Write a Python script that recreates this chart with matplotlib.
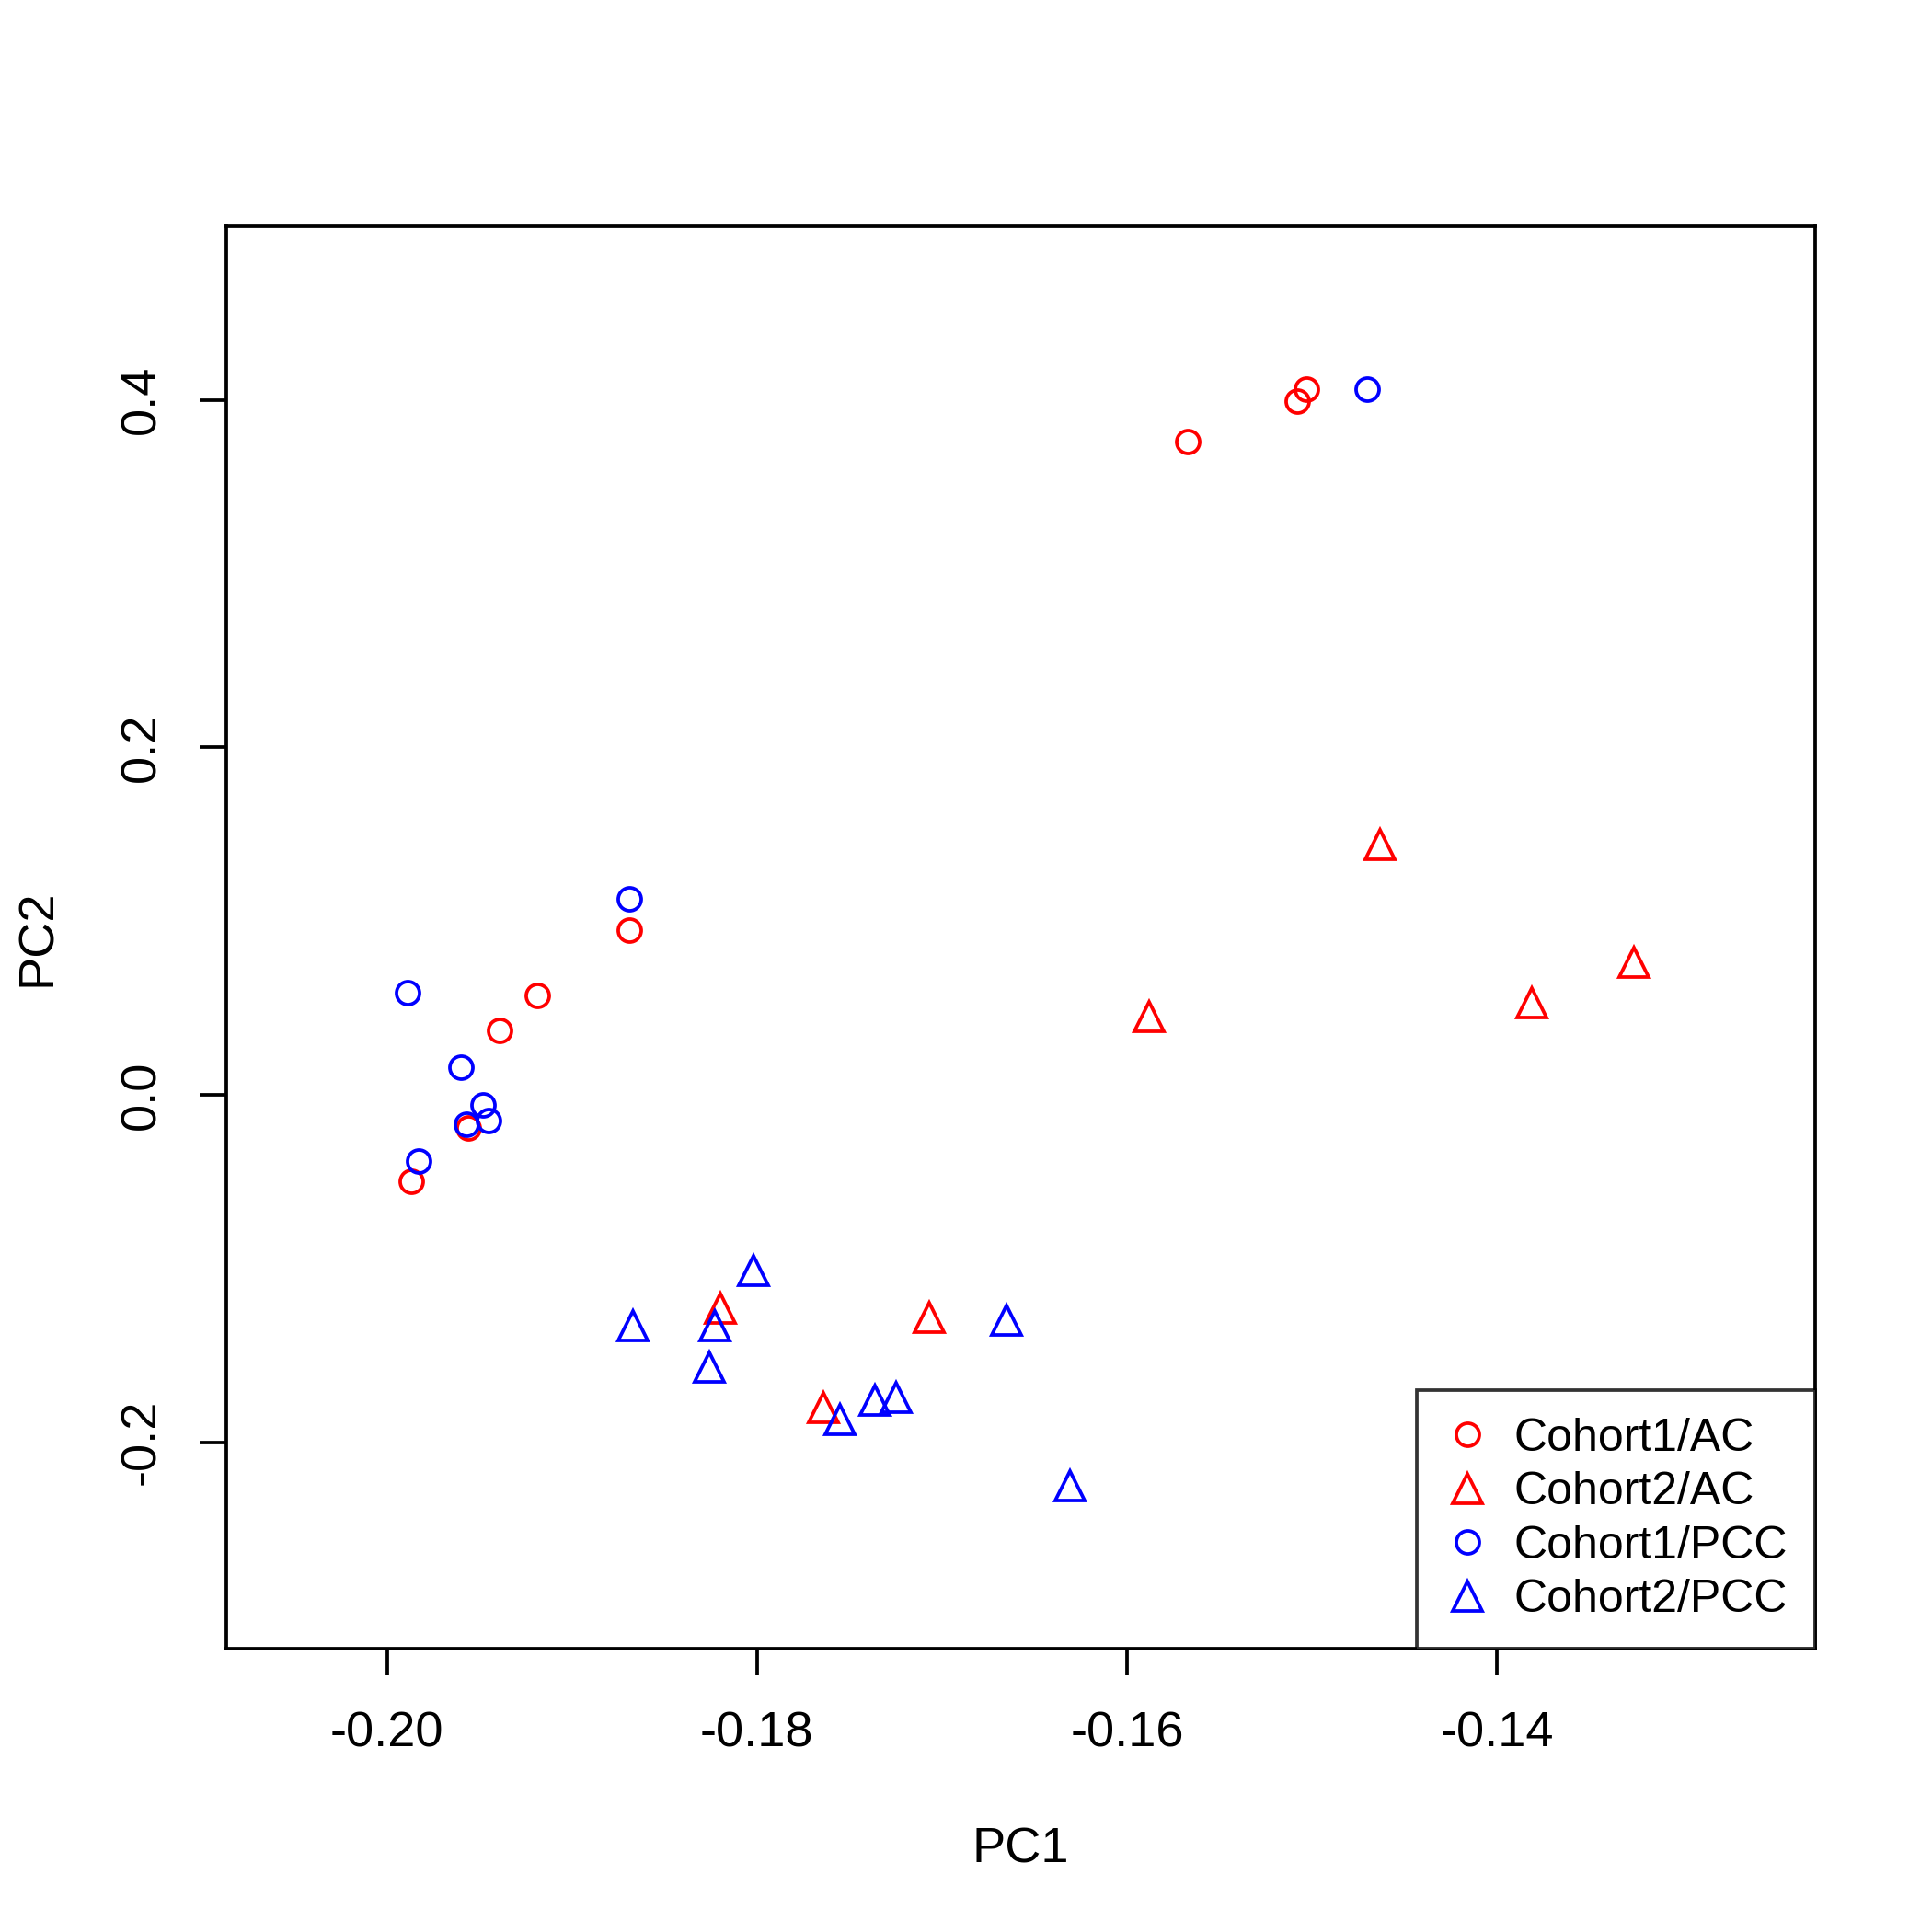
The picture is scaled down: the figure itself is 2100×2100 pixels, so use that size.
import matplotlib
matplotlib.use("Agg")
import matplotlib.pyplot as plt
from matplotlib.lines import Line2D

plt.rcParams['font.family'] = ['Liberation Sans', 'DejaVu Sans']

# Cohort1/AC (red circles)
c1_ac_x = [-0.1567, -0.1508, -0.1503, -0.1869, -0.1919, -0.1939, -0.1956, -0.1987]
c1_ac_y = [0.376, 0.399, 0.406, 0.095, 0.057, 0.037, -0.019, -0.050]
# Cohort2/AC (red triangles)
c2_ac_x = [-0.1463, -0.1326, -0.1381, -0.1588, -0.1820, -0.1707, -0.1764]
c2_ac_y = [0.144, 0.076, 0.053, 0.045, -0.123, -0.128, -0.180]
# Cohort1/PCC (blue circles)
c1_pcc_x = [-0.1470, -0.1869, -0.1989, -0.1960, -0.1948, -0.1945, -0.1957, -0.1983]
c1_pcc_y = [0.406, 0.113, 0.059, 0.016, -0.006, -0.015, -0.017, -0.038]
# Cohort2/PCC (blue triangles)
c2_pcc_x = [-0.1802, -0.1867, -0.1823, -0.1826, -0.1665, -0.1755, -0.1736, -0.1725, -0.1631]
c2_pcc_y = [-0.101, -0.133, -0.133, -0.157, -0.130, -0.187, -0.176, -0.174, -0.225]

labels = ["Cohort1/AC", "Cohort2/AC", "Cohort1/PCC", "Cohort2/PCC"]

fig = plt.figure(figsize=(7, 7), dpi=300)
ax = fig.add_axes([0.117, 0.1465, 0.8225, 0.7365])

series = [(c1_ac_x, c1_ac_y, "o", "red", 6), (c2_ac_x, c2_ac_y, "^", "red", 7.5),
          (c1_pcc_x, c1_pcc_y, "o", "blue", 6), (c2_pcc_x, c2_pcc_y, "^", "blue", 7.5)]
handles = []
for (xs, ys, m, c, ms), lab in zip(series, labels):
    ax.plot(xs, ys, linestyle="none", marker=m, ms=ms, mfc="none", mec=c, mew=0.9)
    handles.append(Line2D([], [], linestyle="none", marker=m, ms=ms, mfc="none",
                          mec=c, mew=0.9, label=lab))

ax.set_xlim(-0.2087, -0.1228)
ax.set_ylim(-0.319, 0.5)
ax.set_xticks([-0.20, -0.18, -0.16, -0.14])
ax.set_xticklabels(["-0.20", "-0.18", "-0.16", "-0.14"])
ax.set_yticks([-0.2, 0.0, 0.2, 0.4])
ax.set_yticklabels(["-0.2", "0.0", "0.2", "0.4"], rotation=90, va="center")
ax.tick_params(direction="out", length=7, width=0.9, labelsize=13, pad=9)
for s in ax.spines.values():
    s.set_linewidth(0.9)

ax.set_xlabel("PC1", fontsize=13)
ax.xaxis.set_label_coords(0.5, -0.125)
ax.set_ylabel("PC2", fontsize=13)
ax.yaxis.set_label_coords(-0.104, 0.5)
ax.set_title("PC analysis on cohorts", fontsize=14, fontweight="bold", pad=62)

leg = ax.legend(handles=handles, loc="lower right", fontsize=12, frameon=True,
                fancybox=False, borderaxespad=0, handlelength=1.0,
                handletextpad=0.5, labelspacing=0.25, borderpad=0.6)
leg.get_frame().set_edgecolor("black")
leg.get_frame().set_linewidth(0.9)

fig.savefig("out.png", dpi=300)
